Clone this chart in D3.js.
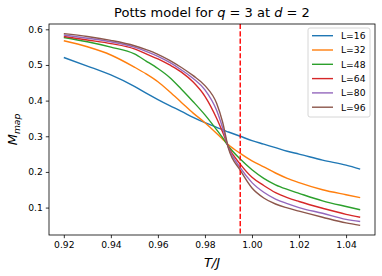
<!DOCTYPE html>
<html>
<head>
<meta charset="utf-8">
<script src="https://cdn.jsdelivr.net/npm/d3@7"></script>
<style>
	body { margin: 0; background: #fff; }
	text { font-family: "DejaVu Sans", sans-serif; fill: #000; }
</style>
</head>
<body>
<svg id="chart" width="382" height="276"></svg>
<script>
const temps = [0.92, 0.93, 0.94, 0.95, 0.955, 0.96, 0.965, 0.97, 0.975, 0.98, 0.985, 0.9875, 0.99, 0.995, 1.0, 1.005, 1.01, 1.015, 1.02, 1.03, 1.04, 1.046]

const sizes = ["L=16", "L=32", "L=48", "L=64", "L=80", "L=96"]

const m16 = [0.521, 0.497, 0.472, 0.440, 0.421, 0.403, 0.386, 0.370, 0.353, 0.338, 0.325, 0.318, 0.312, 0.300, 0.288, 0.278, 0.268, 0.258, 0.250, 0.233, 0.219, 0.208]
const m32 = [0.568, 0.551, 0.528, 0.494, 0.475, 0.453, 0.425, 0.395, 0.365, 0.338, 0.308, 0.292, 0.276, 0.252, 0.231, 0.214, 0.197, 0.182, 0.170, 0.150, 0.136, 0.128]
const m48 = [0.577, 0.565, 0.550, 0.531, 0.511, 0.490, 0.465, 0.432, 0.397, 0.360, 0.318, 0.296, 0.272, 0.236, 0.206, 0.182, 0.164, 0.151, 0.140, 0.119, 0.103, 0.094]
const m64 = [0.580, 0.570, 0.560, 0.545, 0.531, 0.517, 0.500, 0.480, 0.452, 0.412, 0.350, 0.312, 0.270, 0.222, 0.185, 0.162, 0.142, 0.128, 0.117, 0.098, 0.081, 0.073]
const m80 = [0.584, 0.575, 0.565, 0.550, 0.538, 0.524, 0.507, 0.486, 0.462, 0.430, 0.372, 0.324, 0.268, 0.212, 0.170, 0.143, 0.124, 0.111, 0.100, 0.084, 0.067, 0.061]
const m96 = [0.588, 0.580, 0.569, 0.554, 0.543, 0.530, 0.513, 0.493, 0.470, 0.442, 0.392, 0.340, 0.266, 0.205, 0.155, 0.127, 0.110, 0.099, 0.090, 0.073, 0.057, 0.050]

const seriesValues = [m16, m32, m48, m64, m80, m96]
const colors = ["#1f77b4", "#ff7f0e", "#2ca02c", "#d62728", "#9467bd", "#8c564b"]

const xTicks = [0.92, 0.94, 0.96, 0.98, 1.00, 1.02, 1.04]
const yTicks = [0.1, 0.2, 0.3, 0.4, 0.5, 0.6]
const criticalT = 0.995

const plot = {left: 49, right: 375, top: 24, bottom: 235}

//matplotlib style 5% margins around the data
function padded(lo, hi) {
	let r = hi - lo
	return [lo - r * 0.05, hi + r * 0.05]
}

const allM = seriesValues.flat()
const x = d3.scaleLinear().domain(padded(d3.min(temps), d3.max(temps))).range([plot.left, plot.right])
const y = d3.scaleLinear().domain(padded(d3.min(allM), d3.max(allM))).range([plot.bottom, plot.top])

const svg = d3.select("#chart")

svg.append("clipPath").attr("id", "plotClip")
	.append("rect")
	.attr("x", plot.left).attr("y", plot.top)
	.attr("width", plot.right - plot.left).attr("height", plot.bottom - plot.top)

const lines = svg.append("g").attr("clip-path", "url(#plotClip)")

const line = d3.line()
	.x((d, i) => x(temps[i]))
	.y(d => y(d))
	.curve(d3.curveMonotoneX)

lines.selectAll("path.series")
	.data(seriesValues)
	.join("path")
		.classed("series", true)
		.attr("d", d => line(d))
		.attr("fill", "none")
		.attr("stroke", (d, i) => colors[i])
		.attr("stroke-width", 1.4)
		.attr("stroke-linejoin", "round")

lines.append("line")
	.attr("x1", x(criticalT)).attr("x2", x(criticalT))
	.attr("y1", plot.top).attr("y2", plot.bottom)
	.attr("stroke", "#ff0000")
	.attr("stroke-width", 1.4)
	.attr("stroke-dasharray", "5.1,2.2")

// axes
const xAxis = svg.append("g")
	.attr("transform", `translate(0,${plot.bottom})`)
	.call(d3.axisBottom(x).tickValues(xTicks).tickFormat(d3.format(".2f")).tickSize(3.2).tickPadding(3))
const yAxis = svg.append("g")
	.attr("transform", `translate(${plot.left},0)`)
	.call(d3.axisLeft(y).tickValues(yTicks).tickFormat(d3.format(".1f")).tickSize(3.2).tickPadding(3))

for (const ax of [xAxis, yAxis]) {
	ax.select(".domain").remove()
	ax.selectAll(".tick line").attr("stroke", "#000").attr("stroke-width", 0.8)
	ax.selectAll(".tick text").attr("font-size", 9.2).attr("font-family", "DejaVu Sans").attr("fill", "#000")
}

svg.append("rect")
	.attr("x", plot.left).attr("y", plot.top)
	.attr("width", plot.right - plot.left).attr("height", plot.bottom - plot.top)
	.attr("fill", "none")
	.attr("stroke", "#000")
	.attr("stroke-width", 0.8)

// title
const title = svg.append("text")
	.attr("x", (plot.left + plot.right) / 2).attr("y", 17)
	.attr("text-anchor", "middle")
	.attr("font-size", 13)
title.append("tspan").text("Potts model for ")
title.append("tspan").attr("font-style", "italic").text("q")
title.append("tspan").text(" = 3 at ")
title.append("tspan").attr("font-style", "italic").text("d")
title.append("tspan").text(" = 2")

// axis labels
svg.append("text")
	.attr("x", (plot.left + plot.right) / 2).attr("y", 267)
	.attr("text-anchor", "middle")
	.attr("font-size", 13)
	.attr("font-style", "italic")
	.text("T/J")

const yLabel = svg.append("text")
	.attr("transform", `translate(17,${(plot.top + plot.bottom) / 2}) rotate(-90)`)
	.attr("text-anchor", "middle")
	.attr("font-size", 13)
	.attr("font-style", "italic")
yLabel.append("tspan").text("M")
yLabel.append("tspan").attr("font-size", 9.2).attr("dy", 2.8).text("map")

// legend
const legend = svg.append("g").attr("transform", "translate(308,28)")
legend.append("rect")
	.attr("width", 62).attr("height", 89)
	.attr("rx", 2)
	.attr("fill", "#fff").attr("fill-opacity", 0.8)
	.attr("stroke", "#cccccc").attr("stroke-width", 0.8)

const rows = legend.selectAll("g.row")
	.data(sizes)
	.join("g")
		.classed("row", true)
		.attr("transform", (d, i) => `translate(0,${7.7 + i * 14.3})`)
rows.append("line")
	.attr("x1", 4).attr("x2", 25)
	.attr("stroke", (d, i) => colors[i])
	.attr("stroke-width", 1.4)
rows.append("text")
	.attr("x", 33).attr("y", 3.3)
	.attr("font-size", 9.2)
	.text(d => d)
</script>
</body>
</html>
